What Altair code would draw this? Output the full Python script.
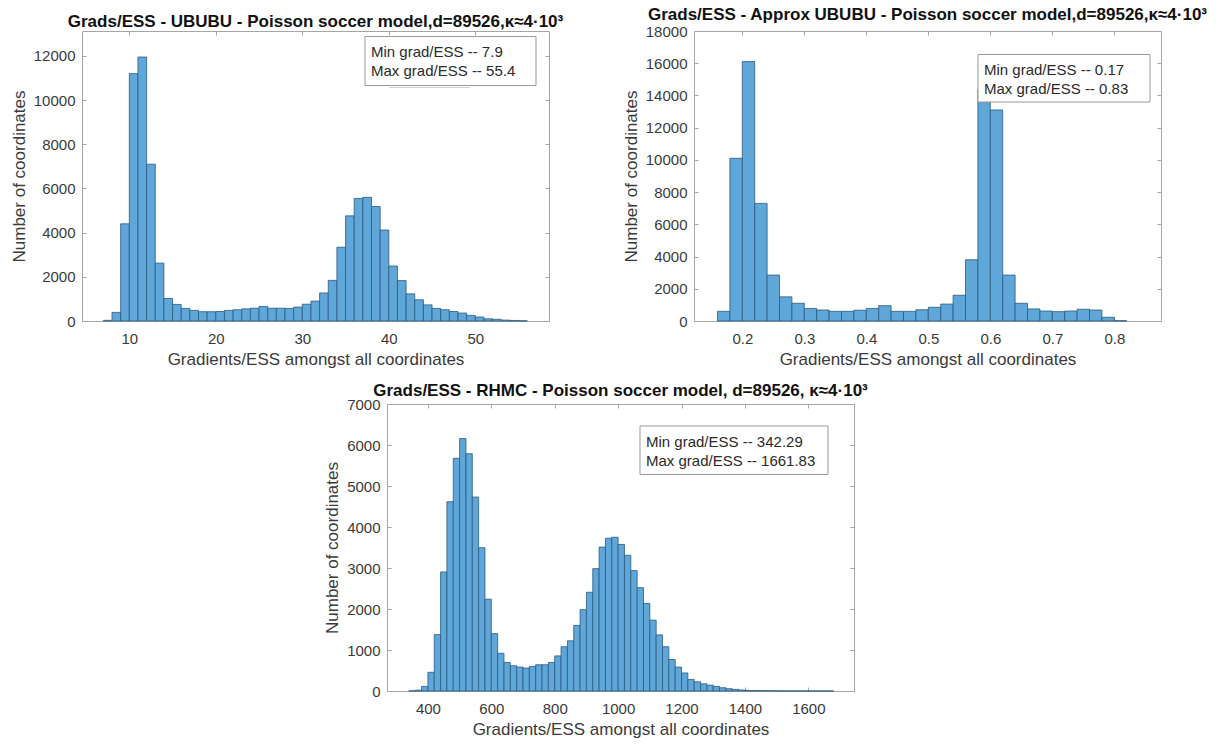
import altair as alt
import pandas as pd

# ---------------- data ----------------
# Panel 1: UBUBU (bin width 1, first bin edge 7)
p1_start = 7
p1_width = 1
p1_counts = [30, 390, 4400, 11200, 11950, 7100, 2620, 1020, 750, 570,
             480, 420, 420, 430, 480, 510, 550, 580, 660, 580,
             580, 570, 630, 760, 900, 1270, 1840, 3340, 4760, 5550,
             5600, 5180, 4120, 2490, 1830, 1230, 960, 730, 570, 510,
             430, 360, 255, 180, 100, 75, 40, 25, 10]

# Panel 2: Approx UBUBU (bin width 0.02, first edge 0.16)
p2_start = 0.16
p2_width = 0.02
p2_counts = [600, 10100, 16100, 7300, 2850, 1500, 1100, 780, 680, 600,
             600, 670, 780, 950, 600, 600, 700, 850, 1050, 1600,
             3800, 14400, 13100, 2850, 1100, 750, 620, 580, 620, 730,
             680, 230, 20]

# Panel 3: RHMC (bin width 20, first edge 340)
p3_start = 340
p3_width = 20
p3_counts = [5, 20, 112, 456, 1376, 2904, 4617, 5676, 6157, 5788,
             4730, 3495, 2240, 1400, 920, 696, 616, 584, 560, 600,
             640, 640, 696, 856, 1080, 1224, 1600, 1984, 2408, 2984,
             3510, 3727, 3750, 3575, 3310, 2936, 2520, 2136, 1728, 1368,
             1080, 768, 584, 440, 280, 224, 176, 144, 112, 80,
             56, 40, 25, 15, 12, 8, 6, 5, 4, 3,
             3, 2, 2, 2, 1, 1, 1]

titles = [
    "Grads/ESS - UBUBU - Poisson soccer model,d=89526,\u03ba\u22484\u00b710\u00b3",
    "Grads/ESS - Approx UBUBU - Poisson soccer model,d=89526,\u03ba\u22484\u00b710\u00b3",
    "Grads/ESS - RHMC - Poisson soccer model, d=89526, \u03ba\u22484\u00b710\u00b3",
]
x_label = "Gradients/ESS amongst all coordinates"
y_label = "Number of coordinates"

legend1 = ["Min grad/ESS -- 7.9", "Max grad/ESS -- 55.4"]
legend2 = ["Min grad/ESS -- 0.17", "Max grad/ESS -- 0.83"]
legend3 = ["Min grad/ESS -- 342.29", "Max grad/ESS -- 1661.83"]

x_ticks1 = [10, 20, 30, 40, 50]
x_ticks2 = [0.2, 0.3, 0.4, 0.5, 0.6, 0.7, 0.8]
x_ticks3 = [400, 600, 800, 1000, 1200, 1400, 1600]
y_ticks1 = [0, 2000, 4000, 6000, 8000, 10000, 12000]
y_ticks2 = [0, 2000, 4000, 6000, 8000, 10000, 12000, 14000, 16000, 18000]
y_ticks3 = [0, 1000, 2000, 3000, 4000, 5000, 6000, 7000]

x_dom1 = [4.53, 58.52]
x_dom2 = [0.1221, 0.8753]
x_dom3 = [271, 1744]
y_dom1 = [0, 13130]
y_dom2 = [0, 18000]
y_dom3 = [0, 7000]

# ---------------- styling ----------------
FONT = "Liberation Sans"
TEXT = "#3a3a3a"
FRAME = "#a6a6a6"
FILL = "#5fa6d9"
EDGE = "#2a5a80"


def make_df(start, width, counts):
    n = len(counts)
    return pd.DataFrame({
        "lo": [round(start + i * width, 6) for i in range(n)],
        "hi": [round(start + (i + 1) * width, 6) for i in range(n)],
        "count": counts,
    })


def panel(df, xdom, ydom, xticks, yticks, xfmt, title, toff, lines, box, w, h, artifact=None):
    xs = alt.Scale(domain=xdom, nice=False, zero=False)
    ys = alt.Scale(domain=ydom, nice=False, zero=False)
    common = dict(offset=-4, tickSize=4, tickColor=FRAME, tickWidth=1,
                  domain=False, grid=False)
    bars = alt.Chart(df).mark_bar(fill=FILL, stroke=EDGE, strokeWidth=0.8).encode(
        x=alt.X("lo:Q", scale=xs,
                axis=alt.Axis(orient="bottom", values=xticks, format=xfmt,
                              title=x_label, labelPadding=10, titlePadding=5,
                              labelFont=FONT, labelFontSize=15, labelColor=TEXT,
                              titleFont=FONT, titleFontSize=17, titleFontWeight="normal",
                              titleColor=TEXT, **common)),
        x2="hi:Q",
        y=alt.Y("count:Q", scale=ys,
                axis=alt.Axis(orient="left", values=yticks, format="d",
                              title=y_label, labelPadding=7, titlePadding=5,
                              labelFont=FONT, labelFontSize=15, labelColor=TEXT,
                              titleFont=FONT, titleFontSize=17, titleFontWeight="normal",
                              titleColor=TEXT, **common)),
        y2=alt.datum(0),
    )
    twin = alt.Chart(df).mark_bar(opacity=0).encode(
        x=alt.X("lo:Q", scale=xs,
                axis=alt.Axis(orient="top", values=xticks, labels=False, title=None, **common)),
        x2="hi:Q",
        y=alt.Y("count:Q", scale=ys,
                axis=alt.Axis(orient="right", values=yticks, labels=False, title=None, **common)),
        y2=alt.datum(0),
    )
    one = pd.DataFrame({"k": [0]})
    rect = alt.Chart(one).mark_rect(fill="white", stroke="#9a9a9a", strokeWidth=1).encode(
        x=alt.value(box[0]), x2=alt.value(box[2]), y=alt.value(box[1]), y2=alt.value(box[3]))
    layers = [bars, twin, rect]
    if artifact is not None:
        layers.append(alt.Chart(one).mark_rule(color="#cfcfcf", strokeWidth=1).encode(
            x=alt.value(artifact[0]), x2=alt.value(artifact[1]), y=alt.value(artifact[2])))
    for i, line in enumerate(lines):
        layers.append(alt.Chart(one).mark_text(
            align="left", baseline="middle", font=FONT, fontSize=15, color="#2a2a2a").encode(
            x=alt.value(box[0] + 6), y=alt.value(box[1] + 15.5 + 19 * i), text=alt.value(line)))
    return alt.layer(*layers).resolve_axis(x="independent", y="independent").properties(
        width=w, height=h,
        title=alt.TitleParams(title, font=FONT, fontSize=17, fontWeight="bold", color="#111111",
                              anchor="middle", frame="group", offset=toff),
    )


c1 = panel(make_df(p1_start, p1_width, p1_counts), x_dom1, y_dom1, x_ticks1, y_ticks1, "d",
           titles[0], 0, legend1, (283, 5.5, 454, 54.5), 467, 290, artifact=(307, 388, 56.5))
c2 = panel(make_df(p2_start, p2_width, p2_counts), x_dom2, y_dom2, x_ticks2, y_ticks2, ".1f",
           titles[1], 0, legend2, (284, 23.5, 456, 71), 467, 290)
c3 = panel(make_df(p3_start, p3_width, p3_counts), x_dom3, y_dom3, x_ticks3, y_ticks3, "d",
           titles[2], -3, legend3, (253, 22, 441, 70.5), 467, 287)

spacer = alt.Chart(pd.DataFrame({"v": [0]})).mark_point(opacity=0).encode(
    x=alt.X("v:Q", axis=None), y=alt.Y("v:Q", axis=None)
).properties(width=297, height=10, view=alt.ViewBackground(strokeOpacity=0))

top = alt.hconcat(c1, c2, spacing=145, bounds="flush")
bottom = alt.hconcat(spacer, c3, spacing=8, bounds="flush")
chart = alt.vconcat(top, bottom, spacing=13).properties(
    padding={"left": 9, "top": 5, "right": 5, "bottom": 5},
    background="white",
).configure_view(stroke=FRAME, strokeWidth=1)

chart.save("out.html", embed_options={"renderer": "svg", "actions": False})
